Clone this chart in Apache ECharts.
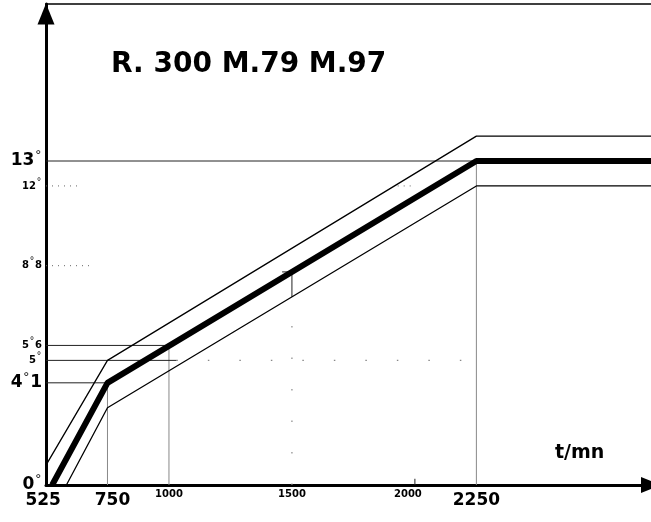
<!DOCTYPE html>
<html><head><meta charset="utf-8">
<script src="https://cdn.jsdelivr.net/npm/echarts@6/dist/echarts.min.js"></script>
<style>html,body{margin:0;padding:0;background:#fff}#c{width:651px;height:522px}</style>
</head><body><div id="c"></div>
<script>
// ---- data ----
const titleText = 'R. 300 M.79 M.97';
const xAxisName = 't/mn';
const xTickValues = [525, 750, 1000, 1500, 2000, 2250];
const xTickLabels = ['525', '750', '1000', '1500', '2000', '2250'];
const xTickBig = [true, true, false, false, false, true];
const yTickValues = [0, 4.1, 5, 5.6, 8.8, 12, 13];
const yTickLabels = ['0°', '4°1', '5°', '5°6', '8°8', '12°', '13°'];
const yTickBig = [true, true, false, false, false, false, true];

const mainCurve = [[525, 0], [750, 4.1], [2250, 13], [2960, 13]];
const upperCurve = [[500, 0.8], [750, 5], [2250, 14], [2960, 14]];
const lowerCurve = [[583, 0], [750, 3.1], [2250, 12], [2960, 12]];

const solidGuides = [
  [[500, 13], [2250, 13]],
  [[500, 5.6], [1000, 5.6]],
  [[500, 5], [1030, 5]],
  [[500, 4.1], [750, 4.1]],
  [[1500, 7.55], [1500, 8.55]],
  [[1460, 8.55], [1500, 8.55]],
  [[2000, 0], [2000, 0.25]]
];
const grayGuides = [
  [[750, 0], [750, 4.1]],
  [[1000, 0], [1000, 5.6]],
  [[2250, 0], [2250, 13]]
];
const dottedGuides = [
  [[500, 12], [640, 12]],
  [[1930, 12], [1995, 12]],
  [[500, 8.8], [680, 8.8]]
];
const sparseGuides = [
  [[1500, 0], [1500, 7.55]],
  [[1030, 5], [2250, 5]]
];

// ---- styles ----
const FONT = 'DejaVu Sans';
const xLabelShift = {525: -9, 750: 5, 2000: -7};

function xFormatter(v) {
  const i = xTickValues.indexOf(v);
  if (i < 0) return '';
  const s = xLabelShift[v] || 0;
  const key = (xTickBig[i] ? 'xb' : 'xs') + (s < 0 ? 'L' + (-s) : s > 0 ? 'R' + s : '');
  return '{' + key + '|' + xTickLabels[i] + '}';
}
const xRich = {};
function addX(base, sz, top) {
  const mk = pad => ({fontFamily: FONT, fontWeight: 'bold', fontSize: sz, color: '#000', padding: pad});
  xRich[base] = mk([top, 0, 0, 0]);
  Object.values(xLabelShift).forEach(s => {
    if (s < 0) xRich[base + 'L' + (-s)] = mk([top, -2 * s, 0, 0]);
    else xRich[base + 'R' + s] = mk([top, 0, 0, 2 * s]);
  });
}
addX('xb', 17, 3);
addX('xs', 10, 0);

function yFormatter(v) {
  let i = -1;
  yTickValues.forEach((t, k) => { if (Math.abs(t - v) < 1e-6) i = k; });
  if (i < 0) return '';
  const b = yTickBig[i] ? 'yb' : 'ys';
  const d = yTickBig[i] ? 'ybd' : 'ysd';
  return yTickLabels[i].split('°').map(p => p ? '{' + b + '|' + p + '}' : '').join('{' + d + '|°}');
}
const yRich = {
  yb: {fontFamily: FONT, fontWeight: 'bold', fontSize: 17, color: '#000', lineHeight: 18},
  ybd: {fontFamily: 'Liberation Sans', fontSize: 14, color: '#000', verticalAlign: 'top', lineHeight: 14, padding: [-3, 1, 0, 1]},
  ys: {fontFamily: FONT, fontWeight: 'bold', fontSize: 10, color: '#000', lineHeight: 12},
  ysd: {fontFamily: 'Liberation Sans', fontSize: 10, color: '#000', verticalAlign: 'top', lineHeight: 10, padding: [-3, 1, 0, 1]}
};

function seg(data, color, width, type, z) {
  return {type: 'line', data: data, symbol: 'none', silent: true, z: z,
    lineStyle: {color: color, width: width, type: type || 'solid'}, animation: false};
}

const series = [];
dottedGuides.forEach(d => series.push(seg(d, '#666', 1, [1, 5], 1)));
sparseGuides.forEach(d => series.push(seg(d, '#888', 1.2, [1.5, 30], 1)));
grayGuides.forEach(d => series.push(seg(d, '#888', 1, 'solid', 2)));
solidGuides.forEach(d => series.push(seg(d, '#222', 1, 'solid', 3)));
series.push(seg(upperCurve, '#000', 1.3, 'solid', 4));
series.push(seg(lowerCurve, '#000', 1.3, 'solid', 4));
series.push(seg(mainCurve, '#000', 6, 'solid', 5));

const chart = echarts.init(document.getElementById('c'), null, {renderer: 'canvas'});
chart.setOption({
  animation: false,
  backgroundColor: '#fff',
  title: {text: titleText, left: 106, top: 46,
    textStyle: {fontFamily: FONT, fontWeight: 'bold', fontSize: 28, color: '#000'}},
  grid: {left: 46, right: 0, top: 4, bottom: 37},
  xAxis: [{
    type: 'value', min: 500, max: 2960, position: 'bottom',
    axisLine: {show: true, onZero: false, lineStyle: {color: '#000', width: 3},
      symbol: ['none', 'triangle'], symbolSize: [16, 20], symbolOffset: [0, 0]},
    axisTick: {show: false}, splitLine: {show: false},
    axisLabel: {customValues: xTickValues, formatter: xFormatter, rich: xRich, margin: 4}
  }, {
    type: 'value', min: 500, max: 2960, position: 'top',
    axisLine: {show: true, onZero: false, lineStyle: {color: '#000', width: 1.5}},
    axisTick: {show: false}, splitLine: {show: false}, axisLabel: {show: false}
  }],
  yAxis: {
    type: 'value', min: 0, max: 19.3,
    axisLine: {show: true, onZero: false, lineStyle: {color: '#000', width: 3},
      symbol: ['none', 'triangle'], symbolSize: [17, 21], symbolOffset: [0, -10]},
    axisTick: {show: false}, splitLine: {show: false},
    axisLabel: {customValues: yTickValues, formatter: yFormatter, rich: yRich, margin: 4}
  },
  graphic: [{type: 'text', left: 555, top: 444,
    style: {text: xAxisName, fontFamily: FONT, fontWeight: 'bold', fontSize: 19, fill: '#000'}}],
  series: series
});
</script>
</body></html>
